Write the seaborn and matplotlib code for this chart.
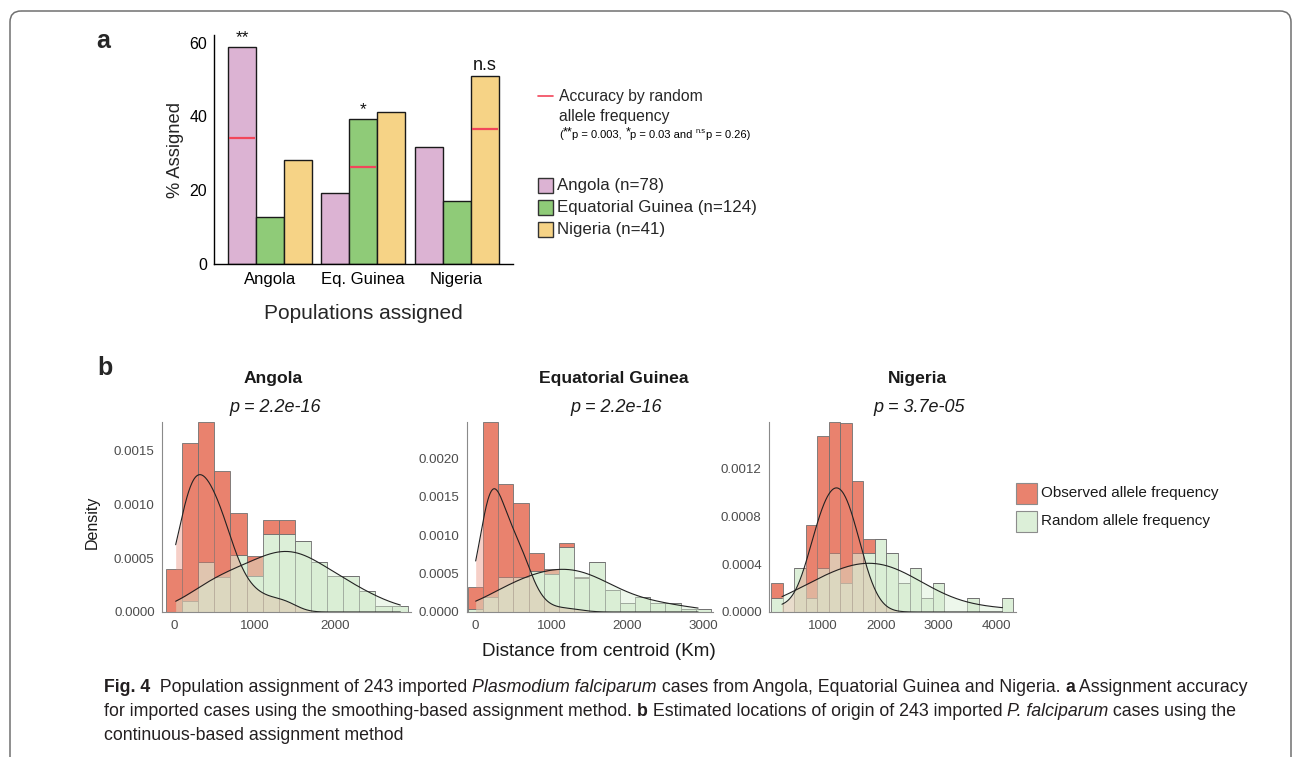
import numpy as np
import pandas as pd
import matplotlib
matplotlib.use("Agg")
import matplotlib.pyplot as plt
import seaborn as sns
from matplotlib.patches import Rectangle, FancyBboxPatch
from matplotlib.ticker import FormatStrFormatter

# ---------------- data: panel a (assignment accuracy, %) ----------------
assigned = ["Angola", "Eq. Guinea", "Nigeria"]
origin_labels = ["Angola (n=78)", "Equatorial Guinea (n=124)", "Nigeria (n=41)"]
angola_pct = [58.9, 19.2, 31.6]
eqguinea_pct = [12.7, 39.4, 17.0]
nigeria_pct = [28.1, 41.1, 51.1]
random_accuracy = [34.2, 26.4, 36.7]
significance = ["**", "*", "n.s"]

# ---------------- data: panel b (distance from centroid, km) ----------------
# 200 km bins: bin centres and per-bin density (units of 1e-4 per km)
angola_centres = [0, 200, 400, 600, 800, 1000, 1200, 1400, 1600, 1800, 2000, 2200, 2400, 2600, 2800]
angola_observed = [4.0, 14.7, 13.0, 9.9, 3.9, 1.9, 1.3, 1.3, 0, 0, 0, 0, 0, 0, 0]
angola_random = [0, 1.0, 4.6, 3.2, 5.3, 3.3, 7.2, 7.2, 6.6, 4.6, 3.3, 3.3, 1.9, 0.6, 0.6]
angola_range = (20, 2810)

eqg_centres = [0, 200, 400, 600, 800, 1000, 1200, 1400, 1600, 1800, 2000, 2200, 2400, 2600, 2800, 3000]
eqg_observed = [2.9, 22.8, 12.1, 9.7, 2.4, 0.6, 0.6, 0.2, 0, 0, 0, 0, 0, 0, 0, 0]
eqg_random = [0.4, 1.9, 4.5, 4.5, 5.3, 5.0, 8.4, 4.4, 6.5, 2.8, 1.2, 2.0, 1.2, 1.2, 0.4, 0.4]
eqg_range = (5, 2930)

nigeria_centres = [200, 400, 600, 800, 1000, 1200, 1400, 1600, 1800, 2000, 2200, 2400, 2600,
                   2800, 3000, 3200, 3400, 3600, 3800, 4000, 4200]
nigeria_observed = [1.2, 0, 0, 6.1, 11.0, 11.0, 13.4, 6.1, 1.2, 0, 0, 0, 0, 0, 0, 0, 0, 0, 0, 0, 0]
nigeria_random = [1.2, 0, 3.7, 1.2, 3.7, 4.9, 2.4, 4.9, 4.9, 6.1, 4.9, 2.4, 3.7, 1.2, 2.4, 0, 0, 1.2, 0, 0, 1.2]
nigeria_range = (290, 4110)

DENSITY_UNIT = 1e-4
BINWIDTH = 200

# ---------------- style ----------------
sns.set_theme(style="white")
plt.rcParams["font.family"] = ["Liberation Sans", "DejaVu Sans"]

W, H = 1293, 757
fig = plt.figure(figsize=(W / 100, H / 100), dpi=100)
fig.patch.set_facecolor("white")


def axes_at(left, top, right, bottom):
    return fig.add_axes([left / W, 1 - bottom / H, (right - left) / W, (bottom - top) / H])


BAR_COLOURS = ["#DCB3D3", "#8FCB78", "#F6D386"]
OBS_COL = "#E9826E"
RAND_COL = "#DCEFD8"

# ---------------- panel a ----------------
ax_a = axes_at(214, 35.3, 512.6, 264)
df_a = pd.DataFrame({
    "assigned": assigned * 3,
    "origin": np.repeat(origin_labels, 3),
    "pct": angola_pct + eqguinea_pct + nigeria_pct,
})
sns.barplot(data=df_a, x="assigned", y="pct", hue="origin", order=assigned,
            hue_order=origin_labels, palette=BAR_COLOURS, width=0.9, saturation=1,
            edgecolor="#1a1a1a", linewidth=1.0, errorbar=None, legend=False, ax=ax_a)
ax_a.set_xlim(-0.6, 2.6)
ax_a.set_ylim(0, 62)
ax_a.set_yticks([0, 20, 40, 60])
bars = sorted(ax_a.patches, key=lambda p: p.get_x())
for i in range(3):
    bar = bars[4 * i]
    x0, w = bar.get_x(), bar.get_width()
    ax_a.hlines(random_accuracy[i], x0 + 0.01, x0 + w - 0.01, color="#F2465A", lw=1.6, zorder=5)
    ax_a.text(x0 + w / 2, bar.get_height() + 0.4, significance[i], ha="center", va="bottom",
              fontsize=13 if significance[i] == "n.s" else 12.5, color="#111111")
for s in ["top", "right"]:
    ax_a.spines[s].set_visible(False)
for s in ["left", "bottom"]:
    ax_a.spines[s].set_color("black")
    ax_a.spines[s].set_linewidth(1.0)
ax_a.tick_params(axis="y", length=3, width=0.8, color="black", labelsize=11.5, labelcolor="black", pad=2)
ax_a.tick_params(axis="x", length=0, labelsize=12, labelcolor="black", pad=6)
ax_a.set_xlabel("Populations assigned", fontsize=15, labelpad=12)
ax_a.set_ylabel("% Assigned", fontsize=13.2, labelpad=4)
ax_a.set_facecolor("none")


# ---------------- panel b ----------------
def distance_panel(ax, centres, observed, random_, data_range, xlim, xticks, yticks, bw):
    centres = np.asarray(centres, float)
    obs = np.asarray(observed, float) * DENSITY_UNIT
    rnd = np.asarray(random_, float) * DENSITY_UNIT
    df = pd.DataFrame({
        "distance": np.concatenate([centres, centres]),
        "density": np.concatenate([obs, rnd]),
        "series": ["Observed"] * len(centres) + ["Random"] * len(centres),
    })
    sns.histplot(data=df, x="distance", weights="density", hue="series",
                 hue_order=["Observed", "Random"], binwidth=BINWIDTH,
                 binrange=(centres[0] - BINWIDTH / 2, centres[-1] + BINWIDTH / 2), stat="count",
                 multiple="stack", palette={"Observed": OBS_COL, "Random": RAND_COL}, alpha=1,
                 edgecolor="#707070", linewidth=0.6, legend=False, ax=ax)
    kde_kw = dict(cut=10, clip=data_range, gridsize=400, ax=ax)
    sns.kdeplot(x=centres, weights=obs, bw_adjust=bw[0], fill=True, color=OBS_COL,
                alpha=0.38, linewidth=0, **kde_kw)
    sns.kdeplot(x=centres, weights=obs, bw_adjust=bw[0], color="#222222", linewidth=0.8, **kde_kw)
    sns.kdeplot(x=centres, weights=rnd, bw_adjust=bw[1], fill=True, color="#D8EED3",
                alpha=0.45, linewidth=0, **kde_kw)
    sns.kdeplot(x=centres, weights=rnd, bw_adjust=bw[1], color="#222222", linewidth=0.8, **kde_kw)
    top = max(p.get_y() + p.get_height() for p in ax.patches)
    ax.set_ylim(0, top)
    ax.set_xlim(*xlim)
    ax.set_xticks(xticks)
    ax.set_yticks(yticks)
    ax.yaxis.set_major_formatter(FormatStrFormatter("%.4f"))
    ax.set_xlabel("")
    ax.set_ylabel("")
    for s in ["top", "right"]:
        ax.spines[s].set_visible(False)
    for s in ["left", "bottom"]:
        ax.spines[s].set_color("#8a8a8a")
        ax.spines[s].set_linewidth(0.8)
    ax.tick_params(length=3.5, width=0.8, color="#8a8a8a", labelsize=9.6, labelcolor="#4d4d4d", pad=2)
    ax.set_facecolor("none")


ax_b1 = axes_at(162.3, 422, 411, 612)
distance_panel(ax_b1, angola_centres, angola_observed, angola_random, angola_range,
               (-146, 2942), [0, 1000, 2000], [0, 0.0005, 0.0010, 0.0015], (0.6, 0.85))
ax_b2 = axes_at(466.7, 422, 713.3, 612)
distance_panel(ax_b2, eqg_centres, eqg_observed, eqg_random, eqg_range,
               (-113, 3130), [0, 1000, 2000, 3000], [0, 0.0005, 0.0010, 0.0015, 0.0020], (0.65, 0.9))
ax_b3 = axes_at(769.3, 422, 1016, 612)
distance_panel(ax_b3, nigeria_centres, nigeria_observed, nigeria_random, nigeria_range,
               (70, 4345), [1000, 2000, 3000, 4000], [0, 0.0004, 0.0008, 0.0012], (1.0, 1.1))

# ---------------- overlay: labels, legends, caption, frame ----------------
ov = fig.add_axes([0, 0, 1, 1], zorder=10)
ov.set_xlim(0, W)
ov.set_ylim(H, 0)
ov.axis("off")
ov.patch.set_alpha(0)

ov.add_patch(FancyBboxPatch((10, 11), 1281, 780, boxstyle="round,pad=0,rounding_size=11",
                            fill=False, edgecolor="#707070", linewidth=1.1, clip_on=False))

ov.text(103.5, 41, "a", fontsize=18, fontweight="bold", ha="center", va="center")
ov.text(104.5, 368, "b", fontsize=18, fontweight="bold", ha="center", va="center")


def rich_line(x, y, pieces, size, color="#231f20"):
    """Chain text pieces left to right; each piece is (text, weight, style, size, rise_pt)."""
    prev, prev_rise = None, 0
    for piece in pieces:
        txt, weight, style = piece[:3]
        psize = piece[3] if len(piece) > 3 else size
        rise = piece[4] if len(piece) > 4 else 0
        kw = dict(fontsize=psize, fontweight=weight, fontstyle=style, ha="left", va="bottom", color=color)
        if prev is None:
            prev = ov.annotate(txt, xy=(x, y), xycoords="data", xytext=(0, rise),
                               textcoords="offset points", **kw)
        else:
            prev = ov.annotate(txt, xy=(1, 0), xycoords=prev, xytext=(0, rise - prev_rise),
                               textcoords="offset points", **kw)
        prev_rise = rise
    return prev


N, B, I = "normal", "bold", "italic"

# legend for panel a
ov.plot([538, 553], [96, 96], color="#F2465A", lw=1.2)
ov.text(559, 96, "Accuracy by random", fontsize=11.3, va="center", ha="left")
ov.text(559, 116, "allele frequency", fontsize=11.3, va="center", ha="left")
SMALL, SUP = 8.0, 9.0
rich_line(559, 139.5, [("(", N, N), ("**", N, N, SUP, 0.5), ("p = 0.003, ", N, N), ("*", N, N, SUP, 0.5),
                       ("p = 0.03 and ", N, N), ("n.s", N, N, 5.4, 3.2), ("p = 0.26)", N, N)],
          SMALL, color="black")
for k, (lab, col) in enumerate(zip(origin_labels, BAR_COLOURS)):
    yc = 185.5 + 22 * k
    ov.add_patch(Rectangle((538, yc - 7.5), 15, 15, facecolor=col, edgecolor="#333333", lw=1.0))
    ov.text(557, yc, lab, fontsize=12.2, va="center", ha="left")

# titles for panel b
for xc, name, pval in [(273, "Angola", "p = 2.2e-16"), (614, "Equatorial Guinea", "p = 2.2e-16"),
                       (917, "Nigeria", "p = 3.7e-05")]:
    ov.text(xc, 379, name, fontsize=12.6, fontweight="bold", ha="center", va="center", color="#1a1a1a")
    ov.text(xc + 2, 407, pval, fontsize=13, fontstyle="italic", ha="center", va="center", color="#1a1a1a")

ov.text(92, 522, "Density", fontsize=11.5, rotation=90, ha="center", va="center", color="#1a1a1a")
ov.text(599, 652, "Distance from centroid (Km)", fontsize=13.6, ha="center", va="center", color="#1a1a1a")

# legend for panel b
for k, (lab, col) in enumerate([("Observed allele frequency", OBS_COL), ("Random allele frequency", RAND_COL)]):
    yc = 493 + 28.5 * k
    ov.add_patch(Rectangle((1016, yc - 10.5), 20.5, 21, facecolor=col, edgecolor="#8c8c8c", lw=0.8))
    ov.text(1041, yc, lab, fontsize=11, va="center", ha="left", color="#1a1a1a")

# caption
CAP = 12.8
rich_line(104, 696, [("Fig. 4", B, N), ("  Population assignment of 243 imported ", N, N),
                     ("Plasmodium falciparum", N, I),
                     (" cases from Angola, Equatorial Guinea and Nigeria. ", N, N), ("a", B, N),
                     (" Assignment accuracy", N, N)], CAP)
rich_line(104, 720, [("for imported cases using the smoothing-based assignment method. ", N, N), ("b", B, N),
                     (" Estimated locations of origin of 243 imported ", N, N), ("P. falciparum", N, I),
                     (" cases using the", N, N)], CAP)
rich_line(104, 744, [("continuous-based assignment method", N, N)], CAP)

fig.savefig("out.png", dpi=100)
